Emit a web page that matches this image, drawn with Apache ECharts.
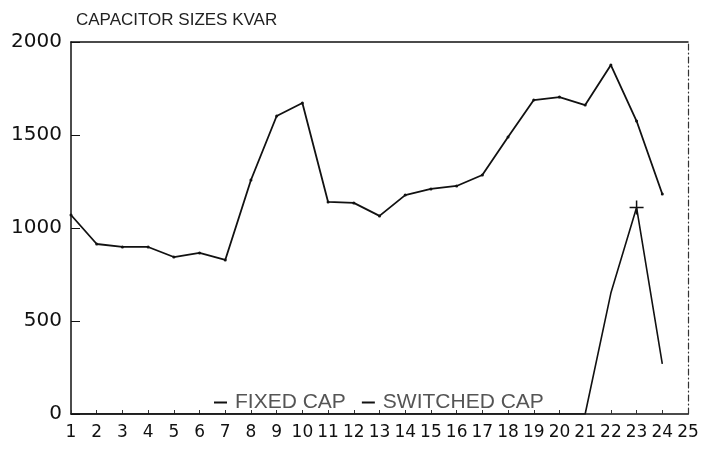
<!DOCTYPE html>
<html>
<head>
<meta charset="utf-8">
<script src="https://cdn.jsdelivr.net/npm/echarts@6/dist/echarts.min.js"></script>
<style>
    html, body { margin: 0; padding: 0; background: #fff; }
    #chart { width: 703px; height: 451px; }
</style>
</head>
<body>
<div id="chart"></div>
<script>
const categories = ["1", "2", "3", "4", "5", "6", "7", "8", "9", "10", "11", "12", "13",
    "14", "15", "16", "17", "18", "19", "20", "21", "22", "23", "24", "25"];
const fixedCap = [1070, 914, 898, 898, 844, 866, 828, 1258, 1602, 1672, 1140, 1135, 1065,
    1177, 1210, 1226, 1285, 1489, 1688, 1704, 1661, 1876, 1575, 1183, null];
const switchedCap = [0, 0, 0, 0, 0, 0, 0, 0, 0, 0, 0, 0, 0,
    0, 0, 0, 0, 0, 0, 0, 0, 650, 1110, 270, null];
const yTicks = [0, 500, 1000, 1500, 2000];

const plusIcon = "path://M0,5L10,5M5,0L5,10";

let myChart = echarts.init(document.getElementById("chart"));
let option = {
    animation: false,
    backgroundColor: "#fff",
    title: {
        text: "CAPACITOR SIZES KVAR",
        left: 71,
        top: 7,
        textStyle: {
            fontFamily: "Liberation Sans",
            fontSize: 17,
            fontWeight: "normal",
            color: "#222"
        }
    },
    legend: {
        left: 209,
        top: 387,
        itemWidth: 13,
        itemHeight: 2,
        itemGap: 16,
        icon: "rect",
        itemStyle: { borderWidth: 0 },
        textStyle: {
            fontFamily: "Liberation Sans",
            fontSize: 21,
            color: "#555",
            padding: [0, 0, 0, 3]
        },
        data: ["FIXED CAP", "SWITCHED CAP"]
    },
    grid: {
        left: 71,
        right: 15,
        top: 42,
        bottom: 37
    },
    xAxis: [
        {
            type: "category",
            data: categories,
            boundaryGap: false,
            axisLine: { lineStyle: { color: "#111", width: 1.5 } },
            axisTick: { show: true, inside: true, length: 4, lineStyle: { color: "#333" } },
            axisLabel: {
                interval: 0,
                margin: 10,
                fontFamily: "DejaVu Sans",
                fontSize: 17,
                color: "#111"
            },
            splitLine: { show: false }
        },
        {
            type: "category",
            data: categories,
            position: "top",
            boundaryGap: false,
            axisLine: { show: true, onZero: false, lineStyle: { color: "#111", width: 1.5 } },
            axisTick: { show: false },
            axisLabel: { show: false }
        }
    ],
    yAxis: [
        {
            type: "value",
            min: yTicks[0],
            max: yTicks[yTicks.length - 1],
            interval: 500,
            axisLine: { show: true, lineStyle: { color: "#111", width: 1.5 } },
            axisTick: { show: true, inside: true, length: 9, lineStyle: { color: "#111" } },
            axisLabel: {
                margin: 9,
                fontFamily: "DejaVu Sans",
                fontSize: 20,
                color: "#111",
                formatter: (v) => String(v)
            },
            splitLine: { show: false }
        },
        {
            type: "value",
            position: "right",
            min: yTicks[0],
            max: yTicks[yTicks.length - 1],
            interval: 500,
            axisLine: { show: true, onZero: false, lineStyle: { color: "#333", width: 1.2, type: [6, 3, 1, 3] } },
            axisTick: { show: false },
            axisLabel: { show: false },
            splitLine: { show: false }
        }
    ],
    series: [
        {
            name: "FIXED CAP",
            type: "line",
            data: fixedCap,
            symbol: "circle",
            symbolSize: 3,
            itemStyle: { color: "#111" },
            lineStyle: { color: "#111", width: 1.8 }
        },
        {
            name: "SWITCHED CAP",
            type: "line",
            data: switchedCap.map((v, i) => i === 22
                ? { value: v, symbol: plusIcon, symbolSize: 14,
                    itemStyle: { borderColor: "#111", borderWidth: 1.5 } }
                : v),
            symbol: "none",
            itemStyle: { color: "#111" },
            lineStyle: { color: "#111", width: 1.6 }
        }
    ]
};
myChart.setOption(option);
</script>
</body>
</html>
